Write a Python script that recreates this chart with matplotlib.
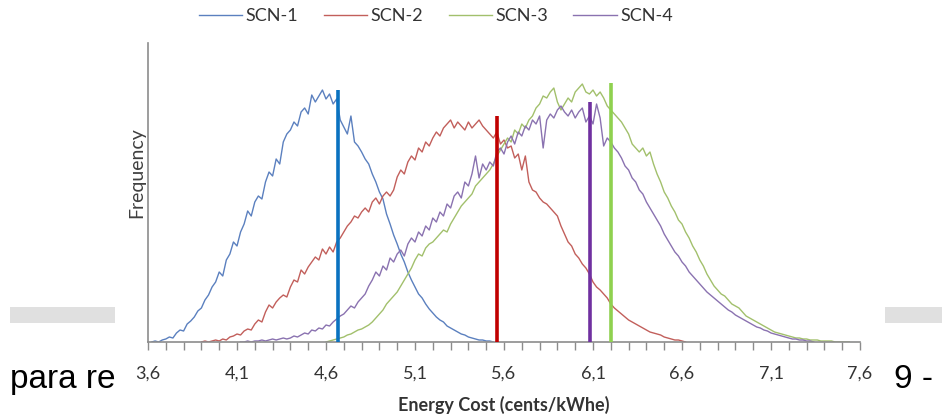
import numpy as np
import matplotlib
matplotlib.use('Agg')
import matplotlib.pyplot as plt
from matplotlib.patches import Rectangle

plt.rcParams['font.family'] = ['Lato', 'DejaVu Sans']

# histogram bins are 0.02 cents/kWhe wide
BIN = 0.02

# SCN-1 (starts at 3.62)
scn1_start = 3.62
scn1 = [0, 1, 0, 2, 3, 5, 4, 9, 12, 11, 18, 21, 25, 31, 34, 42, 47, 55, 60, 70,
        66, 82, 88, 100, 96, 110, 118, 131, 126, 140, 146, 143, 160, 170, 166, 183, 178, 200, 208, 212,
        220, 216, 230, 234, 228, 247, 240, 246, 252, 243, 248, 238, 243, 222, 215, 208, 226, 200, 196, 190,
        183, 178, 168, 160, 150, 143, 128, 118, 107, 98, 88, 80, 70, 62, 55, 48, 44, 38, 33, 29,
        25, 22, 20, 16, 14, 12, 10, 8, 7, 5, 4, 3, 2, 2, 1, 1, 0]

# SCN-2 (starts at 3.90)
scn2_start = 3.90
scn2 = [0, 1, 0, 1, 2, 1, 3, 2, 5, 6, 8, 7, 11, 13, 12, 18, 22, 20, 30, 37,
        34, 40, 44, 47, 45, 55, 62, 60, 72, 68, 75, 80, 85, 82, 93, 88, 95, 90, 100, 104,
        110, 116, 120, 126, 124, 130, 134, 130, 140, 144, 138, 146, 150, 146, 152, 165, 172, 168, 180, 186,
        182, 194, 190, 200, 196, 204, 210, 206, 214, 218, 222, 214, 220, 216, 212, 220, 214, 218, 222, 216,
        212, 208, 204, 210, 198, 202, 194, 196, 184, 188, 172, 186, 160, 152, 150, 144, 140, 138, 134, 130,
        126, 116, 108, 100, 96, 88, 84, 78, 74, 68, 60, 55, 52, 48, 44, 38, 34, 31, 28, 25,
        22, 20, 18, 16, 14, 12, 10, 9, 8, 7, 5, 4, 3, 2, 2, 1, 0]

# SCN-3 (starts at 4.60)
scn3_start = 4.60
scn3 = [0, 1, 2, 3, 4, 5, 7, 8, 10, 12, 13, 15, 17, 20, 24, 28, 32, 38, 42, 46,
        50, 56, 62, 68, 74, 82, 88, 86, 94, 98, 100, 104, 108, 112, 110, 118, 124, 130, 136, 140,
        144, 148, 156, 160, 164, 168, 172, 178, 186, 192, 198, 204, 200, 212, 208, 218, 214, 222, 226, 234,
        238, 246, 244, 250, 254, 240, 232, 238, 244, 240, 250, 254, 258, 250, 248, 252, 246, 250, 244, 236,
        232, 228, 224, 220, 214, 208, 198, 194, 190, 194, 186, 190, 178, 168, 160, 150, 144, 136, 130, 122,
        118, 110, 104, 96, 90, 82, 76, 68, 62, 56, 52, 48, 46, 42, 38, 36, 34, 30, 26, 24,
        22, 20, 18, 16, 14, 12, 10, 9, 8, 7, 6, 5, 4, 4, 3, 3, 2, 2, 2, 1,
        1, 1, 1, 0, 0, 0, 0, 0]

# SCN-4 (starts at 4.12)
scn4_start = 4.12
scn4 = [0, 0, 1, 0, 1, 1, 2, 1, 2, 3, 2, 3, 4, 3, 4, 6, 5, 7, 9, 8,
        12, 11, 14, 13, 17, 16, 20, 23, 26, 28, 32, 36, 34, 40, 44, 48, 56, 62, 70, 66,
        76, 72, 84, 80, 88, 92, 86, 98, 104, 100, 110, 106, 116, 112, 124, 120, 130, 126, 138, 134,
        146, 150, 144, 160, 156, 168, 186, 164, 178, 172, 180, 176, 190, 194, 188, 200, 206, 198, 210, 206,
        216, 212, 222, 218, 226, 194, 222, 228, 224, 232, 236, 230, 226, 232, 224, 230, 234, 220, 226, 218,
        238, 224, 196, 204, 200, 194, 190, 184, 176, 172, 164, 160, 152, 148, 140, 134, 128, 122, 116, 108,
        102, 96, 90, 86, 80, 76, 70, 66, 62, 58, 54, 50, 47, 44, 41, 38, 35, 32, 30, 27,
        25, 23, 21, 19, 17, 15, 14, 12, 11, 9, 8, 7, 6, 5, 4, 3, 3, 2, 2, 1,
        1, 0]

series_names = ['SCN-1', 'SCN-2', 'SCN-3', 'SCN-4']

# mean cost markers (x position, height)
mean_x = [4.665, 5.56, 6.20, 6.085]
mean_h = [252, 226, 259, 240]

xtick_values = [3.6, 4.1, 4.6, 5.1, 5.6, 6.1, 6.6, 7.1, 7.6]
xtick_labels = ['3,6', '4,1', '4,6', '5,1', '5,6', '6,1', '6,6', '7,1', '7,6']

curve_colors = ['#5b80bf', '#c25f5b', '#a2c06c', '#8a72b0']
mean_colors = ['#0a72c0', '#c00000', '#8fd14f', '#7030a0']

W, H = 942, 417
fig = plt.figure(figsize=(W / 100, H / 100), dpi=100)

# page bits behind the chart picture
fig.patches.append(Rectangle((10 / W, 1 - 323 / H), 105 / W, 16 / H, transform=fig.transFigure,
                             facecolor='#e0e0e0', edgecolor='none', zorder=1))
fig.patches.append(Rectangle((885 / W, 1 - 323 / H), 57 / W, 16 / H, transform=fig.transFigure,
                             facecolor='#e0e0e0', edgecolor='none', zorder=1))
fig.text(10 / W, 1 - 388 / H, 'para re', fontsize=24, family='Liberation Sans',
         ha='left', va='baseline', color='black', zorder=1)
fig.text(894 / W, 1 - 388 / H, '9 -', fontsize=24, family='Liberation Sans',
         ha='left', va='baseline', color='black', zorder=1)
fig.patches.append(Rectangle((116 / W, 0), (884 - 116) / W, 1, transform=fig.transFigure,
                             facecolor='white', edgecolor='none', zorder=2))

ax = fig.add_axes([148 / W, 1 - 342 / H, (860 - 148) / W, (342 - 43) / H])
ax.set_zorder(3)

starts = [scn1_start, scn2_start, scn3_start, scn4_start]
values = [scn1, scn2, scn3, scn4]
for name, s, v, c in zip(series_names, starts, values, curve_colors):
    x = s + BIN * np.arange(len(v))
    ax.plot(x, v, color=c, lw=1.0, label=name)

ax.vlines(mean_x, 0, mean_h, colors=mean_colors, lw=2.6, zorder=5)

ax.set_xlim(3.6, 7.6)
ax.set_ylim(0, 299)
ax.set_yticks([])
ax.set_xticks(xtick_values, xtick_labels)
ax.set_xticks(np.arange(36, 77) / 10, minor=True)
ax.tick_params(axis='x', which='both', direction='out', length=6, width=1,
               color='#8c8c8c', labelsize=13, labelcolor='#333333', pad=11)
for side in ['top', 'right']:
    ax.spines[side].set_visible(False)
for side in ['left', 'bottom']:
    ax.spines[side].set_color('#8c8c8c')
    ax.spines[side].set_linewidth(1.2)

ax.set_xlabel('Energy Cost (cents/kWhe)', fontsize=13, fontweight='bold', color='#333333', labelpad=10)
fig.text(137 / W, 1 - 173 / H, 'Frequency', rotation=90, fontsize=14, color='#404040',
         ha='center', va='center', zorder=4)

ax.legend(loc='center', bbox_to_anchor=(436 / W, 1 - 16 / H), bbox_transform=fig.transFigure,
          ncol=4, frameon=False, fontsize=13, handlelength=2.4, handletextpad=0.2,
          columnspacing=1.4, labelcolor='#333333')

fig.savefig('out.png', dpi=100)
